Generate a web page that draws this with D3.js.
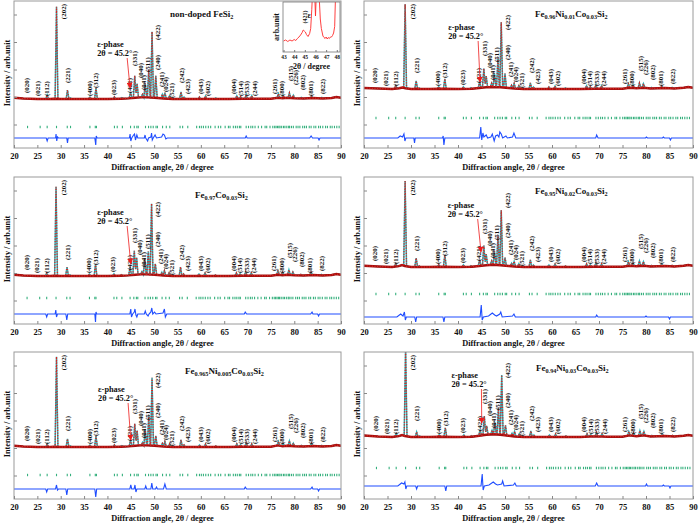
<!DOCTYPE html>
<html><head><meta charset="utf-8">
<script src="https://cdn.jsdelivr.net/npm/d3@7"></script>
<style>
body{margin:0;background:#fff}
svg{display:block}
text{font-family:"Liberation Serif","Times New Roman",serif;font-weight:bold;fill:#111}
</style></head>
<body><svg id="c" width="700" height="531"></svg>
<script>
// ---------------- DATA ----------------
const thetaTicks = [20,25,30,35,40,45,50,55,60,65,70,75,80,85,90];
const panelNames = [
  [["non-doped FeSi",0],["2",1]],
  [["Fe",0],["0.96",1],["Ni",0],["0.01",1],["Co",0],["0.03",1],["Si",0],["2",1]],
  [["Fe",0],["0.97",1],["Co",0],["0.03",1],["Si",0],["2",1]],
  [["Fe",0],["0.95",1],["Ni",0],["0.02",1],["Co",0],["0.03",1],["Si",0],["2",1]],
  [["Fe",0],["0.965",1],["Ni",0],["0.005",1],["Co",0],["0.03",1],["Si",0],["2",1]],
  [["Fe",0],["0.94",1],["Ni",0],["0.03",1],["Co",0],["0.03",1],["Si",0],["2",1]]
];
// peak positions (2theta, deg) of the non-doped pattern
const peakPos = [22.7,25.6,27.1,29.1,31.45,32.1,36.25,37.55,41.5,43.1,44.95,45.85,46.35,47.5,48.1,48.85,49.55,50.35,51.75,52.3,53.3,55.75,56.4,59.7,61.0,63.2,67.7,68.5,69.7,70.9,76.6,77.6,78.95,79.8,81.5,83.7,85.9];
// peak heights above background (arb. units), one list per sample
const peaksP1 = [0,0,4,92,9,1,2,11,2,1,6,22,14,3,14,28,66,22,4,6,3,7,2,2,3,1,3,2,4,3,4,3,5,3,1,2,1];
const peaksP2 = [0,0,3,84,8,1,2,10,2,1,6,19,11,4,14,29,65,14,3,5,3,6,2,2,3,1,3,2,4,3,4,3,5,4,1,2,1];
const peaksP3 = [0,0,3,89,9,1,2,12,2,1,8,24,17,3,16,23,71,11,3,5,3,9,2,2,3,1,3,2,4,3,4,3,5,3,1,3,1];
const peaksP4 = [0,0,3,85,9,1,2,12,2,1,6,20,11,4,14,29,55,8,3,5,3,7,2,2,3,1,3,2,4,3,4,3,5,4,1,2,1];
const peaksP5 = [0,0,3,90,8,1,2,11,2,1,6,22,15,3,16,30,68,10,3,5,3,7,2,2,3,1,3,2,4,3,4,3,5,3,1,3,1];
const peaksP6 = [0,0,3,88,5,1,2,9,2,1,6,19,9,4,12,27,60,10,3,5,3,6,2,2,3,1,3,2,4,3,4,3,5,4,1,2,1];
// background shape offsets [2theta, offset]
const bgP1 = [[20,1.2],[22,0.5],[25,0],[27.8,0],[28.5,0.3],[30,0],[33,0],[36,0],[40,0],[43,0.3],[44.5,0.6],[46,1.3],[47,1.6],[48.5,1.6],[50.8,1],[52,0.5],[54,0],[57,0],[62,0],[66,0],[69,0.3],[72,0.3],[75,0.3],[76.5,1.3],[77.5,0.8],[78.5,1.2],[80,0.8],[82,0.5],[84,1],[86,0.5],[88,1],[89,2],[90,1.2]];
const bgP2 = [[20,1],[23,0.5],[26,0],[27.5,0.8],[28.2,1.5],[28.8,0.8],[30,0],[34,0],[36,0.3],[40,0],[43,0.3],[44.5,1],[46,1.8],[47.5,1.8],[49,1.8],[50.8,1],[52,0.5],[54,0],[58,0],[62,0],[66,0],[69,0.3],[72,0.3],[75,0.3],[76.5,1.3],[78,0.8],[79.5,1.3],[81,0.5],[84,1],[86,0.5],[88,1.2],[89,2],[90,1.2]];
const bgP3 = [[20,1.2],[22,0.5],[25,0],[27.8,0],[28.5,0.3],[30,0],[33,0],[36,0],[40,0],[43,0.3],[44.5,0.6],[46,1.3],[47,1.6],[48.5,1.6],[50.8,1],[52,0.5],[54,0],[57,0],[62,0],[66,0],[69,0.3],[72,0.3],[75,0.3],[76.5,1.3],[77.5,0.8],[78.5,1.2],[80,0.8],[82,0.5],[84,1],[86,0.5],[88,1],[89,2],[90,1.2]];
const bgP4 = [[20,1.2],[23,0.5],[26,0],[27.4,0.8],[28.1,2],[28.7,1],[30,0],[34,0],[36,0.3],[40,0],[43,0.3],[44.5,1],[46,1.8],[47.5,2.2],[49,1.8],[50.8,1],[52,0.5],[54,0],[58,0],[62,0],[66,0],[69,0.3],[72,0.3],[75,0.3],[76.5,1.3],[78,0.8],[79.5,1.3],[81,0.5],[84,1],[86,0.5],[88,1.2],[89,2],[90,1.2]];
const bgP5 = [[20,1.2],[22,0.5],[25,0],[27.8,0],[28.5,0.3],[30,0],[33,0],[36,0],[40,0],[43,0.3],[44.5,0.6],[46,1.3],[47,1.6],[48.5,1.6],[50.8,1],[52,0.5],[54,0],[57,0],[62,0],[66,0],[69,0.3],[72,0.3],[75,0.3],[76.5,1.6],[77.5,0.8],[78.5,1.2],[80,0.8],[82,0.5],[84,1],[86,0.5],[88,1],[89,2],[90,1.2]];
const bgP6 = [[20,1.5],[23,0.5],[26,0],[27.4,0.8],[28.1,2],[28.7,1],[30,0],[34,0],[36,0.3],[40,0],[43,0.3],[44.5,1.2],[46,2.2],[47.5,2.8],[49,2.2],[50.8,1.2],[52,0.5],[54,0],[58,0],[62,0],[66,0],[69,0.6],[72,0.3],[75,0.3],[76.5,1.6],[78,0.8],[79.5,1.6],[81,0.5],[84,1],[86,0.5],[88,1.2],[89,2],[90,1.2]];
// difference curves [2theta, obs-calc]
const diffP1 = [[26.9,0],[27.1,-3],[27.3,0],[28.9,0],[29.0,4],[29.15,-3],[29.3,1],[29.5,0],[31.3,0],[31.45,-5],[31.6,0],[37.3,0],[37.5,-7],[37.6,2],[37.8,0],[44.7,0],[44.85,4],[45.0,-3],[45.2,0],[45.6,3],[45.8,4],[46.0,-2],[46.3,3],[46.5,0],[47.9,0],[48.05,3],[48.2,0],[48.6,-3],[48.8,0],[49.3,1],[49.45,5],[49.6,-2],[49.8,0],[50.2,3],[50.5,0],[51.6,1],[51.9,4],[52.2,3],[52.5,-1],[52.8,0],[69.5,0],[69.7,2],[69.9,0],[83.3,0],[83.6,2],[83.9,0],[85.1,0],[85.3,-2],[85.5,0]];
const diffP2 = [[27.2,0],[27.7,2],[28.2,1],[28.5,4],[28.7,-3],[28.9,0],[30.6,0],[30.75,-5],[30.9,0],[36.7,0],[36.85,2],[37.0,-7],[37.2,0],[44.6,0],[44.85,11],[45.05,-2],[45.3,5],[45.5,1],[46.0,3],[46.3,0],[47.0,1],[47.3,4],[47.7,-3],[48.0,2],[48.4,3],[48.7,1],[48.9,6],[49.2,4],[49.5,0],[50.2,2],[50.5,0],[51.6,1],[51.9,5],[52.3,0],[69.3,0],[69.5,3],[69.8,0],[79.9,0],[80.1,1],[80.3,0],[83.5,0],[83.7,1],[83.9,0],[85.0,0],[85.2,-2],[85.4,0]];
const diffP3 = [[26.8,0],[27.0,-3],[27.2,0],[28.8,0],[28.95,4],[29.1,-3],[29.3,0],[31.1,0],[31.3,-6],[31.5,0],[37.3,0],[37.45,-8],[37.55,2],[37.7,0],[44.8,0],[45.0,5],[45.15,-3],[45.4,0],[45.75,2],[45.9,5],[46.1,-1],[46.3,-3],[46.5,0],[47.9,0],[48.1,3],[48.3,0],[48.7,-2],[48.9,0],[49.3,2],[49.5,6],[49.7,0],[50.1,2],[50.4,0],[51.9,1],[52.2,5],[52.4,-3],[52.7,0],[69.3,0],[69.5,2],[69.8,0],[83.5,0],[83.8,2],[84.0,0],[85.0,0],[85.2,-2],[85.4,0]];
const diffP4 = [[27.0,0],[27.8,3],[28.3,1],[28.6,5],[28.8,-3],[29.0,0],[30.8,0],[31.0,-5],[31.2,0],[36.8,0],[37.0,-5],[37.2,0],[44.7,0],[44.95,12],[45.15,-3],[45.4,0],[46.5,1],[47.3,4],[47.8,2],[48.2,1],[48.9,3],[49.1,5],[49.4,0],[51.6,1],[51.9,3],[52.2,0],[69.3,0],[69.5,2],[69.8,0],[79.8,0],[80.0,1],[80.2,0],[84.8,0],[85.0,-2],[85.2,0]];
const diffP5 = [[26.8,0],[27.0,-3],[27.2,0],[28.9,0],[29.1,4],[29.3,-1],[29.5,0],[31.1,0],[31.3,-6],[31.5,0],[37.3,0],[37.5,-8],[37.7,0],[44.8,0],[45.0,4],[45.2,0],[45.7,0],[45.9,4],[46.1,-3],[46.3,0],[48.0,0],[48.2,3],[48.4,0],[49.3,0],[49.5,6],[49.7,0],[50.3,0],[50.5,2],[50.7,0],[52.0,0],[52.3,5],[52.6,0],[69.3,0],[69.5,2],[69.8,0],[83.5,0],[83.8,2],[84.0,0],[85.0,0],[85.2,-2],[85.4,0]];
const diffP6 = [[27.2,0],[28.0,3],[28.5,2],[28.7,4],[28.9,-3],[29.1,0],[31.0,0],[31.2,-3],[31.4,0],[37.2,0],[37.4,-5],[37.6,0],[44.9,0],[45.15,12],[45.35,-4],[45.6,0],[46.6,1],[47.5,4],[48.0,2],[48.4,1],[49.3,2],[49.5,5],[49.8,0],[51.8,1],[52.1,3],[52.4,0],[69.2,0],[69.5,3],[69.8,0],[79.9,0],[80.1,2],[80.3,0],[83.5,0],[83.7,1],[83.9,0],[84.9,0],[85.1,-2],[85.3,0]];
// Bragg reflection positions
const braggPos = [22.9,25.6,27.1,29.1,31.4,32.1,36.25,37.4,37.65,41.5,42.1,43.2,44.95,45.75,46.3,46.6,48.15,48.8,49.3,49.8,50.4,50.7,51.8,52.6,53.35,55.55,56.1,57.2,59.1,59.7,60.1,60.55,61.05,61.6,62.1,63.05,63.75,64.25,65.2,65.9,66.25,66.95,67.4,67.8,68.25,68.55,69.7,70.2,70.7,71.1,71.6,72.3,73.0,73.75,74.1,74.8,75.4,75.8,76.1,76.4,76.7,76.95,77.3,77.7,78.0,78.4,78.8,79.0,79.4,79.8,80.4,80.8,81.2,81.8,82.2,82.6,83.2,83.6,84.2,84.6,85.2,85.6,86.1,86.7,87.1,87.7,88.1,88.6,89.1,89.6];
// Miller index labels
const hklText = ["(020)","(021)","(112)","(202)","(221)","(400)","(312)","(023)","(421)","(331)","(040)","(041)","(511)","(422)","(240)","(241)","(024)","(521)","(242)","(423)","(043)","(602)","(004)","(514)","(533)","(244)","(261)","(800)","(515)","(226)","(802)","(801)","(822)"];
const hklPos  = [22.7,25.0,27.0,30.6,31.5,36.1,37.5,41.3,44.8,45.9,47.0,47.8,48.6,50.8,50.8,51.5,52.5,53.8,55.9,57.2,60.0,61.5,67.0,68.4,69.8,71.4,75.7,77.3,79.1,80.2,81.7,83.4,86.0];
// inset: zoom of 43-48.3 deg for the non-doped sample
const insetTheta = [43.0,43.2,43.4,43.6,43.8,44.0,44.15,44.3,44.45,44.6,44.75,44.85,44.95,45.05,45.15,45.3,45.45,45.55,45.65,45.75,45.9,46.0,46.1,46.3,46.45,46.55,46.7,46.8,46.9,47.0,47.1,47.2,47.3,47.4,47.5,47.6,47.7,47.8,47.9,48.3];
const insetValue = [22,24,21,24,22,25,23,27,30,34,39,44,42,40,35,31,37,47,85,130,130,72,130,130,66,47,32,29,27,30,26,29,27,30,30,33,38,51,130,130];
const insetTicks = [43,44,45,46,47,48];

// ---------------- LAYOUT ----------------
const cols = [[14,341],[364,693]];
const rows = [[1,148],[177,324],[352,499]];
const panelPeaks = [peaksP1,peaksP2,peaksP3,peaksP4,peaksP5,peaksP6];
const panelBg = [bgP1,bgP2,bgP3,bgP4,bgP5,bgP6];
const panelDiff = [diffP1,diffP2,diffP3,diffP4,diffP5,diffP6];
const panelShift = [0,-0.35,-0.1,-0.35,0,-0.25];
const baseLevel = [49,59,48,57,52,62];
const braggLevel = [21,30,26,30,24,31];
const diffLevel = [10,10,10,7,10,13];
const hklLift = [6,3,3,null,16,3,11,4,6,33,21,9,27,59,29,12,7,1,16,5,5,3,5,3,3,3,5,3,18,14,9,3,5];
const titleX = [156,171,181,171,171,172];
const titleY = [16,16,21,17,22,19];
const epsTheta = [37.8,37.9,37.8,37.8,38.0,38.6];
const epsY = [46,29,38,31,40,26];
const epsArrowTheta = [44.85,44.7,45.0,44.9,45.0,45.05];
const epsArrowLift = [11,7,12,15,7,14];
const yTickVals = [23,50.5,78,105.5,133];
const HW = 0.3;

const svg = d3.select("#c");
const defs = svg.append("defs");
defs.append("marker").attr("id","arr").attr("viewBox","0 0 10 10").attr("refX",9).attr("refY",5)
  .attr("markerWidth",6).attr("markerHeight",6).attr("markerUnits","userSpaceOnUse").attr("orient","auto")
  .append("path").attr("d","M0,0L10,5L0,10z").attr("fill","#ee1c1c");

function bgAt(bg,t){
  if(t<=bg[0][0]) return bg[0][1];
  for(let k=0;k<bg.length-1;k++){
    if(t>=bg[k][0]&&t<=bg[k+1][0]){const f=(t-bg[k][0])/(bg[k+1][0]-bg[k][0]);return bg[k][1]+f*(bg[k+1][1]-bg[k][1]);}
  }
  return bg[bg.length-1][1];
}
function buildProfile(bg,heights,shift){
  const keys=new Set(bg.map(d=>d[0]));
  peakPos.forEach((p,k)=>{if(heights[k]>0){[p+shift-HW,p+shift,p+shift+HW].forEach(t=>keys.add(+t.toFixed(3)));}});
  const ts=Array.from(keys).sort((a,b)=>a-b);
  return ts.map(t=>{let v=bgAt(bg,t);peakPos.forEach((p,k)=>{const h=heights[k];const d=Math.abs(t-(p+shift));if(h>0&&d<HW)v+=h*(1-d/HW);});return [t,v];});
}

panelNames.forEach((name,i)=>{
  const [x0,x1]=cols[i%2];
  const [top,bottom]=rows[Math.floor(i/2)];
  const sh=panelShift[i];
  const x=d3.scaleLinear().domain([20,90]).range([x0,x1]);
  const y=d3.scaleLinear().domain([0,bottom-top]).range([bottom,top]);
  const g=svg.append("g");
  const cid="clip"+i;
  defs.append("clipPath").attr("id",cid).append("rect").attr("x",x0).attr("y",top).attr("width",x1-x0).attr("height",bottom-top);
  const pg=g.append("g").attr("clip-path",`url(#${cid})`);

  const prof=buildProfile(panelBg[i],panelPeaks[i],sh);
  const line=d3.line().x(d=>x(d[0])).y(d=>y(baseLevel[i]+d[1]));
  pg.append("path").attr("d",line(prof)).attr("fill","none").attr("stroke","#27b6bd").attr("stroke-width",1.5);
  pg.append("path").attr("d",line(panelBg[i])).attr("fill","none").attr("stroke","#a3100f").attr("stroke-width",2.4);
  pg.append("path").attr("d",line(prof)).attr("fill","none").attr("stroke","#d9231f").attr("stroke-width",1.3).attr("stroke-dasharray","1.2,1.4");

  pg.selectAll("line.bragg").data(braggPos).join("line").attr("class","bragg")
    .attr("x1",d=>x(d+sh)).attr("x2",d=>x(d+sh))
    .attr("y1",y(braggLevel[i]-1.2)).attr("y2",y(braggLevel[i]+1.2))
    .attr("stroke","#35b07d").attr("stroke-width",1.1);

  const dd=[[20,0]].concat(panelDiff[i]).concat([[90,0]]);
  pg.append("path").attr("d",d3.line().x(d=>x(d[0])).y(d=>y(diffLevel[i]+d[1]))(dd))
    .attr("fill","none").attr("stroke","#1f4dff").attr("stroke-width",1.1);

  g.append("rect").attr("x",x0).attr("y",top).attr("width",x1-x0).attr("height",bottom-top)
    .attr("fill","none").attr("stroke","#9a9a9a").attr("stroke-width",1);
  g.selectAll("line.yt").data(yTickVals).join("line").attr("class","yt")
    .attr("x1",x0).attr("x2",x0+3).attr("y1",d=>y(d)).attr("y2",d=>y(d)).attr("stroke","#888");
  const ax=g.append("g").attr("transform",`translate(0,${bottom})`)
    .call(d3.axisBottom(x).tickValues(thetaTicks).tickSize(-3).tickPadding(5).tickFormat(d3.format("d")));
  ax.select(".domain").remove();
  ax.selectAll(".tick line").attr("stroke","#888");
  ax.selectAll(".tick text").attr("font-size",8.5).attr("font-family","Liberation Serif").attr("font-weight","bold").attr("fill","#111");
  g.append("text").attr("x",(x0+x1)/2-15).attr("y",bottom+22).attr("text-anchor","middle").attr("font-size",8.3)
    .text("Diffraction angle, 2θ / degree");
  g.append("text").attr("transform",`translate(${x0-7},${top+72}) rotate(-90)`).attr("text-anchor","middle")
    .attr("dy","0.35em").attr("font-size",8.3).text("Intensity / arb.unit");

  hklText.forEach((t,k)=>{
    const xx=x(hklPos[k]+sh);
    if(hklLift[k]===null){
      g.append("text").attr("transform",`translate(${xx},${top+3}) rotate(-90)`).attr("text-anchor","end")
        .attr("dy","0.35em").attr("font-size",7).text(t);
    } else {
      g.append("text").attr("transform",`translate(${xx},${y(baseLevel[i]+hklLift[k])}) rotate(-90)`)
        .attr("text-anchor","start").attr("dy","0.35em").attr("font-size",7).text(t);
    }
  });

  const tt=g.append("text").attr("x",x0+titleX[i]).attr("y",top+titleY[i]).attr("font-size",9);
  name.forEach(([s,sub])=>{
    const ts=tt.append("tspan").text(s);
    if(sub) ts.attr("font-size",6.2).attr("dy",2.2);
    else ts.attr("dy",tt.selectAll("tspan").size()>1?-2.2:0);
  });

  const ex=x(epsTheta[i]);
  g.append("text").attr("x",ex).attr("y",top+epsY[i]).attr("font-size",8.3).text("ε-phase");
  g.append("text").attr("x",ex).attr("y",top+epsY[i]+8.5).attr("font-size",8.3).text("2θ = 45.2°");
  g.append("line").attr("x1",ex+30).attr("y1",top+epsY[i]+11)
    .attr("x2",x(epsArrowTheta[i])).attr("y2",y(baseLevel[i]+epsArrowLift[i]))
    .attr("stroke","#ee1c1c").attr("stroke-width",0.8).attr("marker-end","url(#arr)");

  if(i===0){
    const ix0=283, ix1=340, iy0=2, iy1=52;
    const xi=d3.scaleLinear().domain([42.95,48.3]).range([ix0,ix1]);
    const yi=d3.scaleLinear().domain([0,100]).range([iy1,iy0]);
    g.append("rect").attr("x",ix0).attr("y",iy0).attr("width",ix1-ix0).attr("height",iy1-iy0).attr("fill","#fff");
    defs.append("clipPath").attr("id","clipIn").append("rect").attr("x",ix0).attr("y",iy0).attr("width",ix1-ix0).attr("height",iy1-iy0);
    g.append("path").attr("clip-path","url(#clipIn)")
      .attr("d",d3.line().x((d,k)=>xi(insetTheta[k])).y(d=>yi(d))(insetValue))
      .attr("fill","none").attr("stroke","#ff2a2a").attr("stroke-width",0.9);
    g.append("rect").attr("x",ix0).attr("y",iy0).attr("width",ix1-ix0).attr("height",iy1-iy0)
      .attr("fill","none").attr("stroke","#777").attr("stroke-width",0.8);
    const iax=g.append("g").attr("transform",`translate(0,${iy1})`)
      .call(d3.axisBottom(xi).tickValues(insetTicks).tickSize(-2).tickPadding(3).tickFormat(d3.format("d")));
    iax.select(".domain").remove();
    iax.selectAll(".tick line").attr("stroke","#777");
    iax.selectAll(".tick text").attr("font-size",5.5).attr("font-family","Liberation Serif").attr("font-weight","bold").attr("fill","#111");
    g.append("text").attr("x",(ix0+ix1)/2).attr("y",iy1+17).attr("text-anchor","middle").attr("font-size",8).text("2θ / degree");
    g.append("text").attr("transform",`translate(${ix0-7},${(iy0+iy1)/2}) rotate(-90)`).attr("text-anchor","middle")
      .attr("dy","0.35em").attr("font-size",8).text("arb.unit");
    g.append("text").attr("transform",`translate(${xi(45.0)},${yi(57)}) rotate(-90)`).attr("dy","0.35em")
      .attr("font-size",6).text("(421)");
    g.append("text").attr("x",xi(45.25)).attr("y",yi(68)).attr("font-size",8).text("ε");
  }
});
</script></body></html>
